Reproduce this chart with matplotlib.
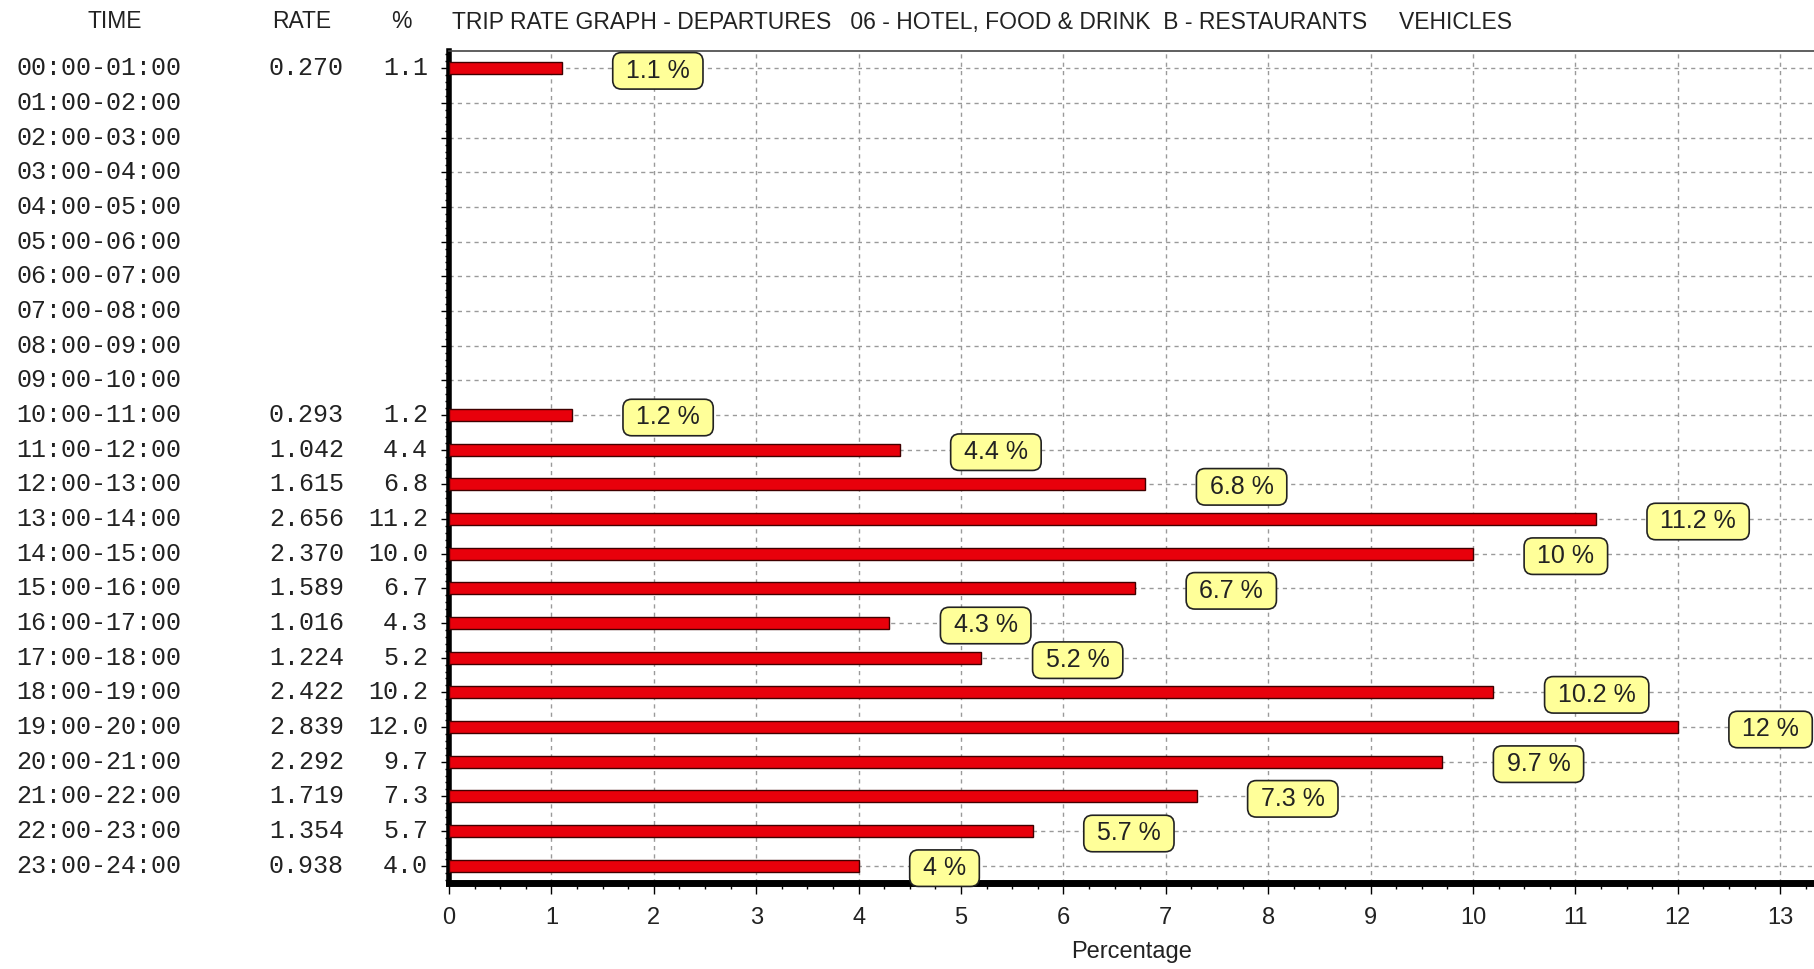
import numpy as np
import matplotlib
matplotlib.use('Agg')
import matplotlib.pyplot as plt
from matplotlib import font_manager, transforms
from matplotlib.ticker import MultipleLocator

# --- Data ---
times = ['%02d:00-%02d:00' % (h, h + 1) for h in range(24)]
rates = np.array([0.270, np.nan, np.nan, np.nan, np.nan, np.nan, np.nan, np.nan,
                  np.nan, np.nan, 0.293, 1.042, 1.615, 2.656, 2.370, 1.589,
                  1.016, 1.224, 2.422, 2.839, 2.292, 1.719, 1.354, 0.938])
pct = np.array([1.1, np.nan, np.nan, np.nan, np.nan, np.nan, np.nan, np.nan,
                np.nan, np.nan, 1.2, 4.4, 6.8, 11.2, 10.0, 6.7,
                4.3, 5.2, 10.2, 12.0, 9.7, 7.3, 5.7, 4.0])
title = 'TRIP RATE GRAPH - DEPARTURES   06 - HOTEL, FOOD & DRINK  B - RESTAURANTS     VEHICLES'

# --- Fonts ---
names = {f.name for f in font_manager.fontManager.ttflist}
sans = 'Liberation Sans Narrow' if 'Liberation Sans Narrow' in names else 'Liberation Sans'
mono = 'Liberation Mono'
ink = '#222222'

W, H = 1814, 969
fig = plt.figure(figsize=(W / 100, H / 100), dpi=100)
ax = fig.add_axes([449 / W, 86 / H, 1 - 449 / W, 832 / H])

rows = np.arange(len(times))
mask = ~np.isnan(pct)

ax.barh(rows[mask], pct[mask], height=0.34, color='#e8000b',
        edgecolor='#400000', linewidth=1, zorder=3)

ax.set_xlim(0, 13.33)
ax.set_ylim(23.5, -0.5)
ax.set_xticks(range(14))
ax.set_yticks(rows)
ax.xaxis.set_minor_locator(MultipleLocator(0.25))
ax.yaxis.set_minor_locator(MultipleLocator(0.2))
ax.grid(True, which='major', color='#9a9a9a', linestyle=(0, (3, 3)), linewidth=1)
ax.set_axisbelow(True)

ax.spines['left'].set_linewidth(4)
ax.spines['bottom'].set_linewidth(5)
ax.spines['top'].set_linewidth(1.2)
ax.spines['top'].set_color('#444444')
ax.spines['right'].set_visible(False)

ax.tick_params(axis='x', which='major', length=8, width=1, pad=9,
               labelsize=17, labelcolor=ink)
ax.tick_params(axis='x', which='minor', length=4, width=1)
ax.tick_params(axis='y', which='major', length=6, width=1, labelleft=False)
ax.tick_params(axis='y', which='minor', length=3, width=1)
for lab in ax.get_xticklabels():
    lab.set_family(sans)

ax.set_xlabel('Percentage', fontsize=17, family=sans, color=ink)
ax.xaxis.set_label_coords(0.5, -0.07)

# --- Value boxes ---
for i in rows[mask]:
    ax.text(pct[i] + 0.56, i, ' %g %% ' % pct[i], ha='left', va='center_baseline',
            fontsize=18, family=sans, color=ink, zorder=5, clip_on=False,
            bbox=dict(boxstyle='round,pad=0.25,rounding_size=0.35',
                      fc='#ffff99', ec=ink, lw=1.2))

# --- Left-hand table ---
trans = transforms.blended_transform_factory(fig.transFigure, ax.transData)
for i, t in enumerate(times):
    fig.text(16 / W, i, t, transform=trans, ha='left', va='center',
             family=mono, fontsize=18, color=ink)
    if not np.isnan(rates[i]):
        fig.text(344 / W, i, '%.3f' % rates[i], transform=trans, ha='right',
                 va='center', family=mono, fontsize=18, color=ink)
        fig.text(428 / W, i, '%.1f' % pct[i], transform=trans, ha='right',
                 va='center', family=mono, fontsize=18, color=ink)

hy = 1 - 22 / H
fig.text(115 / W, hy, 'TIME', ha='center', va='center', family=sans, fontsize=16.5, color=ink)
fig.text(302 / W, hy, 'RATE', ha='center', va='center', family=sans, fontsize=16.5, color=ink)
fig.text(401 / W, hy, '%', ha='center', va='center', family=sans, fontsize=16.5, color=ink)
fig.text(452 / W, hy, title, ha='left', va='center', family=sans, fontsize=16.5, color=ink)

fig.savefig('out.png', dpi=100)
